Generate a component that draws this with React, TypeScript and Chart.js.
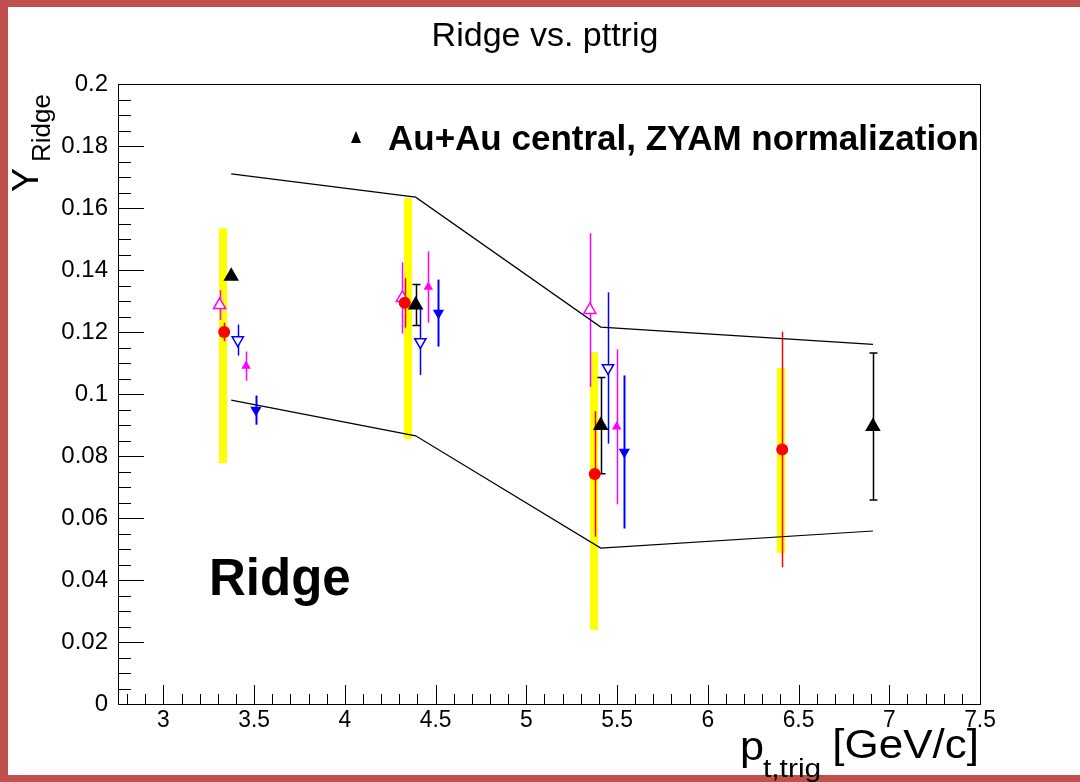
import React, { useEffect, useRef } from "react";
import { Chart, registerables } from "chart.js";

Chart.register(...registerables);

// ---------------- data ----------------
const blackX = [3.374, 4.39, 5.41, 6.91];
const blackY = [0.138, 0.1287, 0.0898, 0.0895];
const blackErr = [0, 0.0066, 0.0155, 0.0237];

const redX = [3.335, 4.33, 5.377, 6.41];
const redY = [0.12, 0.1294, 0.0742, 0.0821];
const redErr = [0.003, 0.008, 0.0202, 0.038];

const magOpenX = [3.31, 4.317, 5.35];
const magOpenY = [0.1287, 0.131, 0.1271];
const magOpenErr = [0.0048, 0.0115, 0.0248];

const blueOpenX = [3.41, 4.416, 5.45];
const blueOpenY = [0.1174, 0.1168, 0.1084];
const blueOpenErr = [0.005, 0.0107, 0.0244];

const magFillX = [3.456, 4.46, 5.498];
const magFillY = [0.109, 0.1345, 0.0894];
const magFillErr = [0.0047, 0.0115, 0.025];

const blueFillX = [3.51, 4.516, 5.54];
const blueFillY = [0.0948, 0.1261, 0.0813];
const blueFillErr = [0.0047, 0.0108, 0.0247];

const sysX = [3.33, 4.35, 5.374, 6.403];
const sysLow = [0.0777, 0.0855, 0.0239, 0.0487];
const sysHigh = [0.1535, 0.1632, 0.1135, 0.1084];

const bandX = [3.374, 4.39, 5.41, 6.91];
const bandUpper = [0.171, 0.1635, 0.1216, 0.116];
const bandLower = [0.098, 0.0865, 0.0503, 0.0558];

const xTickValues = [3, 3.5, 4, 4.5, 5, 5.5, 6, 6.5, 7, 7.5];
const xTickLabels = ["3", "3.5", "4", "4.5", "5", "5.5", "6", "6.5", "7", "7.5"];
const yTickValues = [0, 0.02, 0.04, 0.06, 0.08, 0.1, 0.12, 0.14, 0.16, 0.18, 0.2];
const yTickLabels = ["0", "0.02", "0.04", "0.06", "0.08", "0.1", "0.12", "0.14", "0.16", "0.18", "0.2"];

const titleText = "Ridge vs. pttrig";
const legendText = "Au+Au central, ZYAM normalization";
const bigLabel = "Ridge";

// ---------------- layout ----------------
const W = 1080;
const H = 782;
const FONT = "'Liberation Sans', Arial, Helvetica, sans-serif";

const pts = (xs: number[], ys: number[]) => xs.map((x, i) => ({ x, y: ys[i] }));

const errorSets = [
  { xs: blueFillX, ys: blueFillY, errs: blueFillErr, color: "#0000FF", cap: false, w: 2 },
  { xs: magFillX, ys: magFillY, errs: magFillErr, color: "#FF00FF", cap: false, w: 1.5 },
  { xs: blueOpenX, ys: blueOpenY, errs: blueOpenErr, color: "#0000FF", cap: false, w: 1.5 },
  { xs: magOpenX, ys: magOpenY, errs: magOpenErr, color: "#FF00FF", cap: false, w: 1.5 },
  { xs: redX, ys: redY, errs: redErr, color: "#FF0000", cap: false, w: 1.5 },
  { xs: blackX, ys: blackY, errs: blackErr, color: "#000000", cap: true, w: 1.5 },
];

function scaledText(ctx: any, text: string, x: number, y: number, sx: number, align: string) {
  ctx.save();
  ctx.translate(x, y);
  ctx.scale(sx, 1);
  ctx.textAlign = align;
  ctx.fillText(text, 0, 0);
  ctx.restore();
}

const rootPlugin = {
  id: "rootStyle",
  beforeDraw(chart: any) {
    const ctx = chart.ctx;
    ctx.save();
    ctx.fillStyle = "#FFFFFF";
    ctx.fillRect(0, 0, W, H);
    ctx.fillStyle = "#C0504D";
    ctx.fillRect(0, 0, W, 7);
    ctx.fillRect(0, 0, 8, H);
    ctx.fillRect(0, H - 7, W, 7);
    ctx.restore();
  },
  beforeDatasetsDraw(chart: any) {
    const ctx = chart.ctx;
    const xs = chart.scales.x;
    const ys = chart.scales.y;
    ctx.save();
    // systematic bands
    ctx.fillStyle = "#FFFF00";
    sysX.forEach((v, i) => {
      const px = xs.getPixelForValue(v);
      const top = ys.getPixelForValue(sysHigh[i]);
      const bot = ys.getPixelForValue(sysLow[i]);
      ctx.fillRect(Math.round(px) - 4, top, 8, bot - top);
    });
    // error bars
    errorSets.forEach((s) => {
      ctx.strokeStyle = s.color;
      ctx.lineWidth = s.w;
      s.xs.forEach((xv, i) => {
        if (!s.errs[i]) return;
        const px = Math.round(xs.getPixelForValue(xv)) + 0.5;
        const t = ys.getPixelForValue(s.ys[i] + s.errs[i]);
        const b = ys.getPixelForValue(s.ys[i] - s.errs[i]);
        ctx.beginPath();
        ctx.moveTo(px, t);
        ctx.lineTo(px, b);
        if (s.cap) {
          ctx.moveTo(px - 4, t);
          ctx.lineTo(px + 4, t);
          ctx.moveTo(px - 4, b);
          ctx.lineTo(px + 4, b);
        }
        ctx.stroke();
      });
    });
    ctx.restore();
  },
  afterDraw(chart: any) {
    const ctx = chart.ctx;
    const xs = chart.scales.x;
    const ys = chart.scales.y;
    const a = chart.chartArea;
    ctx.save();
    // frame
    ctx.strokeStyle = "#000";
    ctx.lineWidth = 1;
    ctx.strokeRect(Math.round(a.left) + 0.5, Math.round(a.top) + 0.5, Math.round(a.right - a.left), Math.round(a.bottom - a.top));
    // x ticks
    ctx.beginPath();
    for (let k = 28; k <= 75; k++) {
      const v = k / 10;
      const px = Math.round(xs.getPixelForValue(v)) + 0.5;
      const major = k % 5 === 0;
      ctx.moveTo(px, a.bottom);
      ctx.lineTo(px, a.bottom - (major ? 19 : 10));
    }
    // y ticks
    for (let k = 0; k <= 40; k++) {
      const v = k * 0.005;
      const py = Math.round(ys.getPixelForValue(v)) + 0.5;
      const major = k % 4 === 0;
      ctx.moveTo(a.left, py);
      ctx.lineTo(a.left + (major ? 26 : 13), py);
    }
    ctx.stroke();

    // tick labels
    ctx.fillStyle = "#000";
    ctx.font = `24px ${FONT}`;
    ctx.textBaseline = "middle";
    xTickValues.forEach((v, i) => {
      scaledText(ctx, xTickLabels[i], xs.getPixelForValue(v), a.bottom + 16, 0.95, "center");
    });
    yTickValues.forEach((v, i) => {
      scaledText(ctx, yTickLabels[i], a.left - 10, ys.getPixelForValue(v), 1.0, "right");
    });

    // title
    ctx.textBaseline = "alphabetic";
    ctx.font = `34px ${FONT}`;
    scaledText(ctx, titleText, 545, 46, 1.0, "center");

    // x axis title
    ctx.font = `40px ${FONT}`;
    scaledText(ctx, "p", 740, 760, 1.08, "left");
    ctx.font = `26px ${FONT}`;
    scaledText(ctx, "t,trig", 763, 777, 1.15, "left");
    ctx.font = `40px ${FONT}`;
    scaledText(ctx, "[GeV/c]", 979, 758, 1.1, "right");

    // y axis title
    ctx.save();
    ctx.translate(38, 192);
    ctx.rotate(-Math.PI / 2);
    ctx.textAlign = "left";
    ctx.font = `36px ${FONT}`;
    ctx.fillText("Y", 0, 0);
    ctx.font = `26px ${FONT}`;
    ctx.fillText("Ridge", 30, 12);
    ctx.restore();

    // legend
    ctx.fillStyle = "#000";
    ctx.beginPath();
    ctx.moveTo(356, 131);
    ctx.lineTo(361, 143);
    ctx.lineTo(351, 143);
    ctx.closePath();
    ctx.fill();
    ctx.font = `bold 35px ${FONT}`;
    scaledText(ctx, legendText, 388, 150, 1.0, "left");

    // big label
    ctx.font = `bold 51px ${FONT}`;
    scaledText(ctx, bigLabel, 209, 595, 1.0, "left");

    ctx.restore();
  },
};

export default function App() {
  const ref = useRef<HTMLCanvasElement | null>(null);
  useEffect(() => {
    if (!ref.current) return;
    const chart = new Chart(ref.current, {
      type: "scatter",
      data: {
        datasets: [
          {
            label: "Au+Au central",
            data: pts(blackX, blackY),
            pointStyle: "triangle",
            pointRadius: 9,
            backgroundColor: "#000",
            borderColor: "#000",
            borderWidth: 0,
          },
          {
            label: "red",
            data: pts(redX, redY),
            pointStyle: "circle",
            pointRadius: 6,
            backgroundColor: "#FF0000",
            borderColor: "#FF0000",
            borderWidth: 0,
          },
          {
            label: "magenta open",
            data: pts(magOpenX, magOpenY),
            pointStyle: "triangle",
            pointRadius: 7,
            backgroundColor: "rgba(255,255,255,1)",
            borderColor: "#FF00FF",
            borderWidth: 1.5,
          },
          {
            label: "blue open",
            data: pts(blueOpenX, blueOpenY),
            pointStyle: "triangle",
            rotation: 180,
            pointRadius: 6.5,
            backgroundColor: "rgba(255,255,255,1)",
            borderColor: "#0000FF",
            borderWidth: 1.5,
          },
          {
            label: "magenta filled",
            data: pts(magFillX, magFillY),
            pointStyle: "triangle",
            pointRadius: 5.5,
            backgroundColor: "#FF00FF",
            borderColor: "#FF00FF",
            borderWidth: 0,
          },
          {
            label: "blue filled",
            data: pts(blueFillX, blueFillY),
            pointStyle: "triangle",
            rotation: 180,
            pointRadius: 6.5,
            backgroundColor: "#0000FF",
            borderColor: "#0000FF",
            borderWidth: 0,
          },
          {
            type: "line",
            label: "upper",
            data: pts(bandX, bandUpper),
            borderColor: "#000",
            borderWidth: 1.2,
            pointRadius: 0,
            fill: false,
            tension: 0,
          } as any,
          {
            type: "line",
            label: "lower",
            data: pts(bandX, bandLower),
            borderColor: "#000",
            borderWidth: 1.2,
            pointRadius: 0,
            fill: false,
            tension: 0,
          } as any,
        ],
      },
      options: {
        responsive: false,
        animation: false,
        devicePixelRatio: 1,
        layout: { padding: { left: 118, right: 100, top: 84, bottom: 78 } },
        plugins: { legend: { display: false }, tooltip: { enabled: false }, title: { display: false } },
        scales: {
          x: { type: "linear", min: 2.75, max: 7.5, display: false },
          y: { type: "linear", min: 0, max: 0.2, display: false },
        },
      },
      plugins: [rootPlugin],
    });
    return () => chart.destroy();
  }, []);
  return (
    <div style={{ position: "absolute", left: 0, top: 0, width: W, height: H }}>
      <canvas ref={ref} width={W} height={H} style={{ display: "block" }} />
    </div>
  );
}
